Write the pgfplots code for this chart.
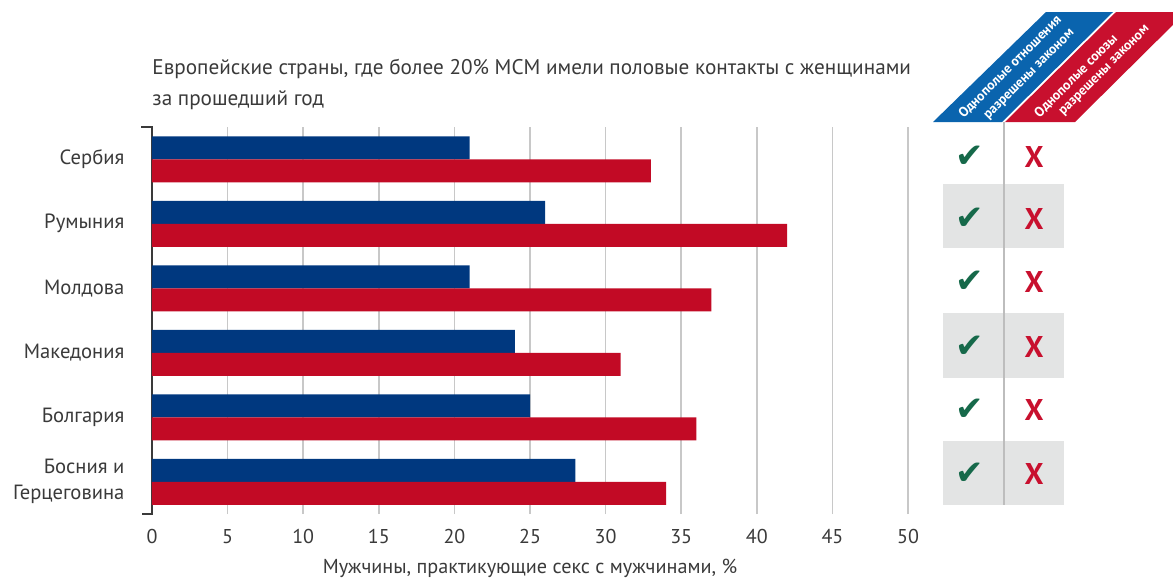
\documentclass[border=0pt]{standalone}
\usepackage{pgfplots}
\pgfplotsset{compat=1.18}
\usepackage{fontspec}
\setmainfont{PT Sans}
\newfontfamily\symfont{DejaVu Sans}
\definecolor{barblue}{HTML}{00387F}
\definecolor{barred}{HTML}{C20A25}
\definecolor{hdrblue}{HTML}{0A64AE}
\definecolor{hdrred}{HTML}{C8102E}
\definecolor{checkgreen}{HTML}{16694A}
\definecolor{xred}{HTML}{C8102E}
\definecolor{rowgrey}{HTML}{E3E4E4}
\definecolor{divgrey}{HTML}{BDBDBD}
\definecolor{gridgrey}{HTML}{C8C8C8}
\definecolor{spinegrey}{HTML}{3A3A3A}
\definecolor{labelgrey}{HTML}{3A3A3A}
\begin{document}
\begin{tikzpicture}
\path[use as bounding box] (0,0) rectangle (586.5pt,-289pt);
\begin{axis}[
  at={(76pt,-257pt)}, anchor=south west,
  width=378pt, height=193.5pt, scale only axis,
  xmin=0, xmax=50, ymin=0.5, ymax=6.5,
  enlargelimits=false, clip=false,
  xbar, bar width=11.5pt,
  axis y line*=left, axis x line*=bottom,
  x axis line style={draw=none},
  y axis line style={spinegrey, line width=1pt},
  tick style={draw=none},
  xtick={0,5,...,50},
  ytick={1,...,6},
  yticklabels={{Босния и\\Герцеговина},Болгария,Македония,Молдова,Румыния,Сербия},
  /pgf/number format/assume math mode=true,
  xticklabel style={font=\fontsize{10}{12}\selectfont, text=labelgrey, yshift=-4pt},
  yticklabel style={align=right, font=\fontsize{10.3}{13}\selectfont, text=labelgrey, xshift=-6pt},
  xlabel={Мужчины, практикующие секс с мужчинами, \%},
  xlabel style={font=\fontsize{10.1}{12}\selectfont, text=labelgrey, yshift=-1pt},
  xmajorgrids, grid style={gridgrey, line width=0.8pt},
]
\addplot[fill=barblue, draw=none, bar shift=5.75pt] coordinates {(28,1) (25,2) (24,3) (21,4) (26,5) (21,6)};
\addplot[fill=barred, draw=none, bar shift=-5.75pt] coordinates {(34,1) (36,2) (31,3) (37,4) (42,5) (33,6)};
\end{axis}
\begin{scope}[x=0.5pt,y=-0.5pt]
% spine end ticks
\draw[spinegrey, line width=1pt] (141,127) -- (152.5,127);
\draw[spinegrey, line width=1pt] (142,514) -- (152.5,514);
% title
\node[anchor=base west, inner sep=0, text=labelgrey, font=\fontsize{10.6}{12}\selectfont] at (152,74) {Европейские страны, где более 20\% МСМ имели половые контакты с женщинами};
\node[anchor=base west, inner sep=0, text=labelgrey, font=\fontsize{10.6}{12}\selectfont] at (152,105) {за прошедший год};
% legend table
\fill[rowgrey] (943,184) rectangle (1064,248);
\fill[rowgrey] (943,313) rectangle (1064,378);
\fill[rowgrey] (943,441) rectangle (1064,505);
\draw[divgrey, line width=1pt] (1004,122) -- (1004,505);
\foreach \y in {157,219,282,347,410,474} {
  \node[text=checkgreen, font=\symfont\fontsize{17}{17}\selectfont] at (970,\y) {✔};
  \node[text=xred, font=\bfseries\fontsize{15}{15}\selectfont] at (1034,\y) {X};
}
\begin{scope}
\clip (0,0) rectangle (1173,578);
\fill[hdrblue] (933,122) -- (1002,122) -- (1113,12) -- (1046,12) -- cycle;
\fill[hdrred] (1005,122) -- (1075,122) -- (1186,12) -- (1116,12) -- cycle;
\begin{scope}[every node/.style={rotate=45, text=white, inner sep=0, font=\bfseries\fontsize{6.8}{8}\selectfont}]
\node at (1010,67) {Однополые отношения};
\node at (1030,75) {разрешены законом};
\node at (1076,76) {Однополые союзы};
\node at (1105,71) {разрешены законом};
\end{scope}
\end{scope}
\end{scope}
\end{tikzpicture}
\end{document}
